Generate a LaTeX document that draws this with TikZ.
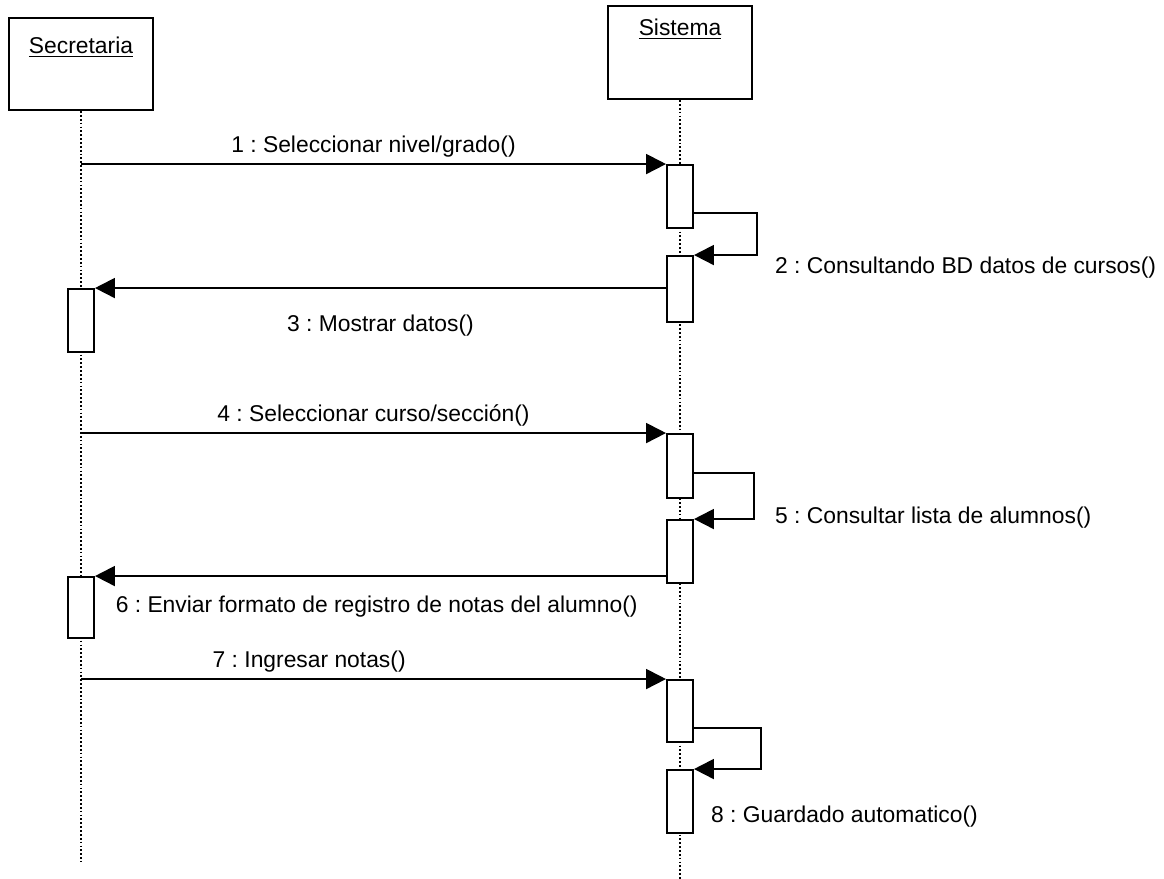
\documentclass[tikz,border=0pt]{standalone}
\usepackage{fontspec}
\setmainfont{Liberation Sans}
\usetikzlibrary{calc, positioning, arrows.meta}

\begin{document}
\frenchspacing
\begin{tikzpicture}
[
    x = 0.02cm, y = -0.02cm,
    every node/.style = {font = \fontsize{13}{15}\selectfont},
    ObjStyle/.style = {draw, rectangle, line width = 1.2pt, minimum width = 2.88cm, inner sep = 0pt, anchor = north},
    BarStyle/.style = {draw, rectangle, fill = white, line width = 1.1pt, minimum width = 0.52cm, inner sep = 0pt},
    LifeStyle/.style = {line width = 0.9pt, dash pattern = on 1pt off 1.2pt},
    MsgStyle/.style = {line width = 1.1pt, -{Triangle[length = 4mm, width = 4mm]}}
]
  \useasboundingbox (0,0) rectangle (1164,879);

  % objects
  \node[ObjStyle, minimum height = 1.84cm] (sec) at (81,17) {};
  \node[ObjStyle, minimum height = 1.86cm] (sis) at (680,5) {};
  \node (secname) at ($(sec.north) + (0,30)$) {\underline{Secretaria}};
  \node (sisname) at ($(sis.north) + (0,24)$) {\underline{Sistema}};

  % lifelines
  \coordinate (secend) at (81,862);
  \coordinate (sisend) at (680,879);
  \draw[LifeStyle] (sec.south) -- (secend);
  \draw[LifeStyle] (sis.south) -- (sisend);

  % activation bars
  \node[BarStyle, minimum height = 1.26cm] (b1) at (680,196.5) {};
  \node[BarStyle, minimum height = 1.32cm] (b2) at (680,289) {};
  \node[BarStyle, minimum height = 1.28cm] (b3) at (680,466) {};
  \node[BarStyle, minimum height = 1.26cm] (b4) at (680,551.5) {};
  \node[BarStyle, minimum height = 1.24cm] (b5) at (680,711) {};
  \node[BarStyle, minimum height = 1.26cm] (b6) at (680,801.5) {};
  \node[BarStyle, minimum height = 1.26cm] (a1) at (81,320.5) {};
  \node[BarStyle, minimum height = 1.22cm] (a2) at (81,607.5) {};

  % messages
  \draw[MsgStyle] (sec.south |- b1.north west) -- node[above] {1 : Seleccionar nivel/grado()} (b1.north west);
  \draw[MsgStyle] ($(b1.south east) + (0,-16)$) -- ++(63,0) |- (b2.north east);
  \node[anchor = west] (lbl2) at (769,268) {2 : Consultando BD datos de cursos()};
  \draw[MsgStyle] (b2.west |- a1.north) -- node[below = 4mm] {3 : Mostrar datos()} (a1.north east);

  \draw[MsgStyle] (sec.south |- b3.north west) -- node[above] {4 : Seleccionar curso/sección()} (b3.north west);
  \draw[MsgStyle] ($(b3.south east) + (0,-26)$) -- ++(60,0) |- (b4.north east);
  \node[anchor = west] (lbl5) at (769,518) {5 : Consultar lista de alumnos()};
  \draw[MsgStyle] (b4.west |- a2.north) -- (a2.north east)
    node[pos = 1, anchor = west, xshift = 0.28cm, yshift = -0.62cm] {6 : Enviar formato de registro de notas del alumno()};

  \draw[MsgStyle] (sec.south |- b5.north west) -- node[above, pos = 0.39] {7 : Ingresar notas()} (b5.north west);
  \draw[MsgStyle] ($(b5.south east) + (0,-15)$) -- ++(67,0) |- (b6.north east);
  \node[anchor = west] (lbl8) at (705,817) {8 : Guardado automatico()};
\end{tikzpicture}
\end{document}
